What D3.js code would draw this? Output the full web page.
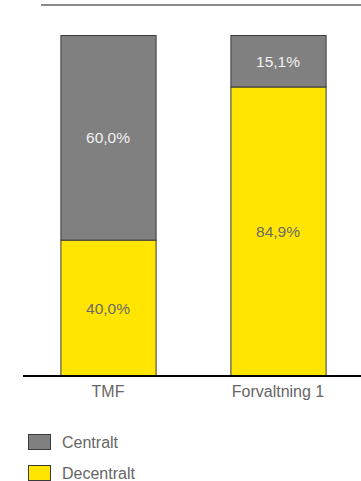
<!DOCTYPE html>
<html><head><meta charset="utf-8">
<script src="https://cdn.jsdelivr.net/npm/d3@7/dist/d3.min.js"></script>
<style>html,body{margin:0;padding:0;background:#fff;}svg{display:block;font-family:"Liberation Sans",Arial,sans-serif;}</style>
</head><body>
<script>
const categories = ["TMF", "Forvaltning 1"];
const seriesNames = ["Decentralt", "Centralt"];
const decentralt = [40.0, 84.9];
const centralt = [60.0, 15.1];
const colors = {"Centralt": "#808080", "Decentralt": "#FFE500"};
const labelColors = {"Centralt": "#f2f2f2", "Decentralt": "#6b6b6b"};

const W = 361, H = 481;
const svg = d3.select("body").append("svg").attr("width", W).attr("height", H);

const x = d3.scaleBand().domain(categories).range([23, 363]).paddingInner(0.44).paddingOuter(0.22);
const y = d3.scaleLinear().domain([0, 100]).range([376, 35]);

// top rule
svg.append("line").attr("x1", 41).attr("x2", W).attr("y1", 5).attr("y2", 5)
  .attr("stroke", "#8a8a8a").attr("stroke-width", 2);

const rows = categories.map((c, i) => ({cat: c, Decentralt: decentralt[i], Centralt: centralt[i]}));
const stack = d3.stack().keys(seriesNames)(rows);

const fmt = v => v.toFixed(1).replace(".", ",") + "%";

stack.forEach(layer => {
  const g = svg.append("g");
  g.selectAll("rect").data(layer).join("rect")
    .attr("x", d => x(d.data.cat) + 0.5)
    .attr("width", x.bandwidth())
    .attr("y", d => y(d[1]) + 0.5)
    .attr("height", d => y(d[0]) - y(d[1]))
    .attr("fill", colors[layer.key])
    .attr("stroke", "#3a3a3a").attr("stroke-width", 1);
  g.selectAll("text").data(layer).join("text")
    .attr("x", d => x(d.data.cat) + x.bandwidth() / 2)
    .attr("y", d => (y(d[0]) + y(d[1])) / 2 + 2)
    .attr("text-anchor", "middle").attr("dominant-baseline", "middle")
    .attr("font-size", 15.5).attr("fill", labelColors[layer.key])
    .text(d => fmt(d[1] - d[0]));
});

// x axis
const xAxis = svg.append("g").attr("transform", "translate(0,376)")
  .call(d3.axisBottom(x).tickSize(0).tickPadding(10));
xAxis.select(".domain").attr("d", "M23,0H" + W).attr("stroke", "#000").attr("stroke-width", 2);
xAxis.selectAll("text").attr("font-size", 16).attr("fill", "#666")
  .attr("font-family", "'Liberation Sans',Arial,sans-serif");

// legend
const legendItems = ["Centralt", "Decentralt"];
const lg = svg.append("g");
legendItems.forEach((k, i) => {
  const yy = 434 + i * 31;
  lg.append("rect").attr("x", 28.5).attr("y", yy + 0.5).attr("width", 22).attr("height", 15)
    .attr("fill", colors[k]).attr("stroke", "#3a3a3a").attr("stroke-width", 1);
  lg.append("text").attr("x", 62).attr("y", yy + 10).attr("dominant-baseline", "middle")
    .attr("font-size", 16).attr("fill", "#666").text(k);
});
</script>
</body></html>
